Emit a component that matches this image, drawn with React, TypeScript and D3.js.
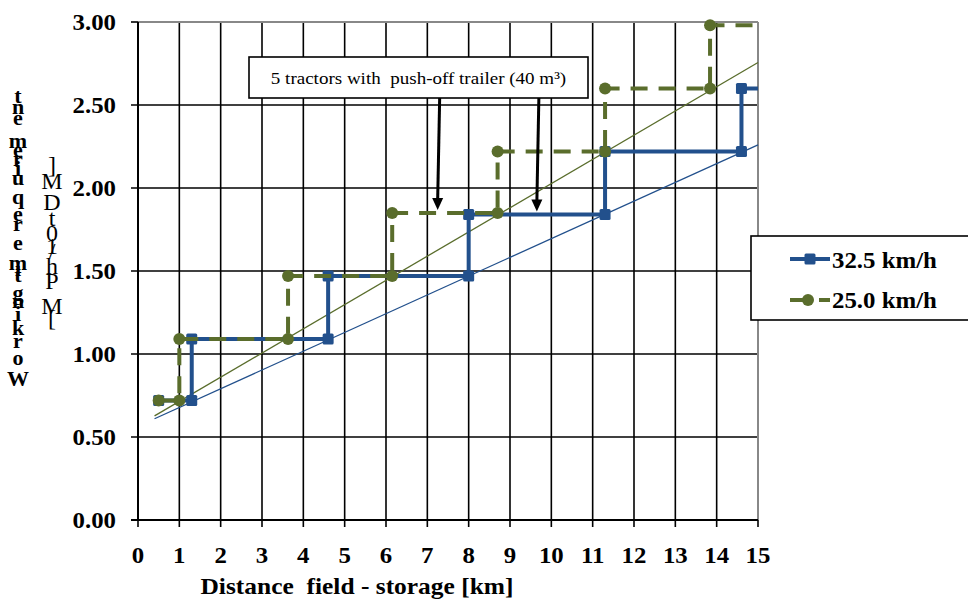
import React from "react";
import * as d3 from "d3";

const xTicks = [0, 1, 2, 3, 4, 5, 6, 7, 8, 9, 10, 11, 12, 13, 14, 15];
const yTicks = [0, 0.5, 1.0, 1.5, 2.0, 2.5, 3.0];

const seriesNames = ["32.5 km/h", "25.0 km/h"];

const x325 = [0.5, 1.3, 1.3, 4.6, 4.6, 8.0, 8.0, 11.3, 11.3, 14.6, 14.6, 15];
const y325 = [0.72, 0.72, 1.09, 1.09, 1.47, 1.47, 1.84, 1.84, 2.22, 2.22, 2.6, 2.6];

const x250 = [0.5, 1.0, 1.0, 3.63, 3.63, 6.15, 6.15, 8.7, 8.7, 11.3, 11.3, 13.84, 13.84, 15];
const y250 = [0.72, 0.72, 1.09, 1.09, 1.47, 1.47, 1.85, 1.85, 2.22, 2.22, 2.6, 2.6, 2.98, 2.98];

const trendX = [0.4, 15];
const trend325 = [0.61, 2.26];
const trend250 = [0.627, 2.756];

const annotationText = "5 tractors with  push-off trailer (40 m\u00B3)";
const arrowTargetsX = [7.25, 9.65];
const arrowTargetsY = [1.85, 1.84];

const xTitle = "Distance  field - storage [km]";
const yTitle1 = "Working time requirement";
const yTitle2 = "[MPh/10tDM]";

const BLUE = "#22508c";
const GREEN = "#5a6d2c";
const FONT = "'Liberation Serif', 'Times New Roman', serif";

// vertical placements (top-down) for stacked y-title glyphs
const y1Pos = [95, 106, 117, 140, 149, 158, 168, 177, 196, 213, 223, 232, 242, 262, 268, 274, 283, 292, 300, 313, 327, 340, 357, 378];
const y2Pos = [165, 181, 202, 218, 233, 246, 251, 266, 281, 306, 318];

function SText(props: { x: number; y: number; sx?: number; anchor?: string; size: number; bold?: boolean; children: any }) {
  const { x, y, sx = 1.1, anchor = "start", size, bold = true, children } = props;
  return (
    <text
      transform={`translate(${x},${y}) scale(${sx},1)`}
      textAnchor={anchor}
      fontSize={size}
      fontWeight={bold ? "bold" : "normal"}
      style={{ whiteSpace: "pre" }}
    >
      {children}
    </text>
  );
}

export default function App() {
  const W = 968, H = 602;
  const x = d3.scaleLinear().domain([0, 15]).range([138, 758]);
  const y = d3.scaleLinear().domain([0, 3]).range([520, 22]);

  const line = d3.line<[number, number]>().x(d => x(d[0])).y(d => y(d[1]));
  const p325 = x325.map((v, i) => [v, y325[i]] as [number, number]);
  const p250 = x250.map((v, i) => [v, y250[i]] as [number, number]);
  const t325 = trendX.map((v, i) => [v, trend325[i]] as [number, number]);
  const t250 = trendX.map((v, i) => [v, trend250[i]] as [number, number]);

  const title1 = yTitle1.split("").reverse();
  const title2 = yTitle2.split("").reverse();

  const boxTop = 57, boxBottom = 98, boxLeft = 249, boxRight = 588;

  return (
    <svg width={W} height={H} style={{ position: "absolute", left: 0, top: 0, background: "#fff" }} fontFamily={FONT}>
      <rect x={0} y={0} width={W} height={H} fill="#fff" />
      {/* grid */}
      {xTicks.filter(t => t > 0 && t < 15).map(t => (
        <line key={"vx" + t} x1={x(t)} x2={x(t)} y1={y(3)} y2={y(0) + 7} stroke="#000" strokeWidth={1.6} />
      ))}
      <line x1={x(15)} x2={x(15)} y1={y(0)} y2={y(0) + 7} stroke="#000" strokeWidth={1.6} />
      <line x1={x(0)} x2={x(0)} y1={y(0)} y2={y(0) + 7} stroke="#000" strokeWidth={1.6} />
      {yTicks.filter(t => t > 0 && t < 3).map(t => (
        <line key={"hy" + t} x1={x(0) - 7} x2={x(15)} y1={y(t)} y2={y(t)} stroke="#000" strokeWidth={1.6} />
      ))}
      <line x1={x(0) - 7} x2={x(0)} y1={y(3)} y2={y(3)} stroke="#000" strokeWidth={1.6} />
      <line x1={x(0) - 7} x2={x(0)} y1={y(0)} y2={y(0)} stroke="#000" strokeWidth={1.6} />
      {/* plot border gray top/right */}
      <line x1={x(0)} x2={x(15)} y1={y(3)} y2={y(3)} stroke="#888" strokeWidth={2} />
      <line x1={x(15)} x2={x(15)} y1={y(3)} y2={y(0)} stroke="#888" strokeWidth={2} />
      {/* axes */}
      <line x1={x(0)} x2={x(0)} y1={y(3)} y2={y(0)} stroke="#000" strokeWidth={2} />
      <line x1={x(0) - 7} x2={x(15)} y1={y(0)} y2={y(0)} stroke="#000" strokeWidth={2} />

      {/* trend lines */}
      <path d={line(t325) || ""} fill="none" stroke={BLUE} strokeWidth={1.3} />
      <path d={line(t250) || ""} fill="none" stroke={GREEN} strokeWidth={1.3} />

      {/* series 32.5 */}
      <path d={line(p325) || ""} fill="none" stroke={BLUE} strokeWidth={4} />
      {p325.slice(0, -1).map((p, i) => (
        <rect key={"m1" + i} x={x(p[0]) - 5.5} y={y(p[1]) - 5.5} width={11} height={11} rx={1.5} fill={BLUE} />
      ))}
      {/* series 25.0 */}
      <path d={line(p250) || ""} fill="none" stroke={GREEN} strokeWidth={4} strokeDasharray="17 11" />
      {p250.slice(0, -1).map((p, i) => (
        <circle key={"m2" + i} cx={x(p[0])} cy={y(p[1])} r={6} fill={GREEN} />
      ))}

      {/* annotation */}
      <rect x={boxLeft} y={boxTop} width={boxRight - boxLeft} height={boxBottom - boxTop} fill="#fff" stroke="#000" strokeWidth={1.6} />
      <SText x={(boxLeft + boxRight) / 2} y={84} anchor="middle" size={17} sx={1.12} bold={false}>{annotationText}</SText>
      {arrowTargetsX.map((ax, i) => {
        const tx = x(ax), ty = y(arrowTargetsY[i]) - 3;
        const sx = tx + 2;
        return (
          <g key={"ar" + i}>
            <line x1={sx} y1={boxBottom} x2={tx} y2={ty - 10} stroke="#000" strokeWidth={3} />
            <path d={`M${tx - 5.5},${ty - 12} L${tx + 5.5},${ty - 12} L${tx},${ty} Z`} fill="#000" />
          </g>
        );
      })}

      {/* tick labels */}
      {yTicks.map(t => (
        <SText key={"yl" + t} x={116} y={y(t) + 8} anchor="end" size={23} sx={1.08}>{t.toFixed(2)}</SText>
      ))}
      {xTicks.map(t => (
        <SText key={"xl" + t} x={x(t)} y={563} anchor="middle" size={23} sx={1.08}>{String(t)}</SText>
      ))}
      <text x={357} y={594} textAnchor="middle" fontSize={23} fontWeight="bold" textLength={313} lengthAdjust="spacingAndGlyphs" style={{ whiteSpace: "pre" }}>{xTitle}</text>

      {/* stacked y title */}
      {title1.map((c, i) => (
        <text key={"t1" + i} x={18} y={y1Pos[i]} textAnchor="middle" dominantBaseline="central" fontSize={22} fontWeight="bold">{c}</text>
      ))}
      {title2.map((c, i) => (
        <text key={"t2" + i} x={52} y={y2Pos[i]} textAnchor="middle" dominantBaseline="central" fontSize={24}>{c}</text>
      ))}

      {/* legend */}
      <rect x={751} y={236} width={240} height={84} fill="#fff" stroke="#000" strokeWidth={1.6} />
      <line x1={790} x2={830} y1={259} y2={259} stroke={BLUE} strokeWidth={4} />
      <rect x={804.5} y={253.5} width={11} height={11} rx={1.5} fill={BLUE} />
      <SText x={832} y={268} size={23} sx={1.08}>{seriesNames[0]}</SText>
      <line x1={790} x2={830} y1={300} y2={300} stroke={GREEN} strokeWidth={4} strokeDasharray="22 7 11" />
      <circle cx={808} cy={300} r={6} fill={GREEN} />
      <SText x={832} y={308} size={23} sx={1.08}>{seriesNames[1]}</SText>
    </svg>
  );
}
